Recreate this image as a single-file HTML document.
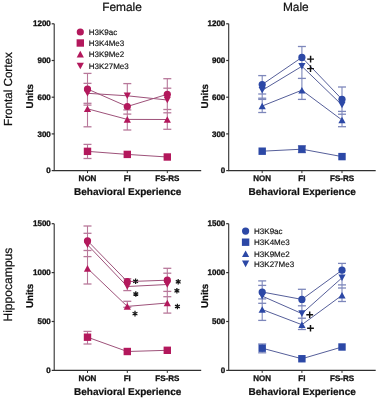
<!DOCTYPE html>
<html><head><meta charset="utf-8"><style>
html,body{margin:0;padding:0;background:#fff;width:378px;height:400px;overflow:hidden}
svg{display:block;will-change:transform}
text{font-family:"Liberation Sans", sans-serif;fill:#111;stroke:#111;stroke-width:0.22px;text-rendering:geometricPrecision}
</style></head><body>
<svg width="378" height="400" viewBox="0 0 378 400">
<rect width="378" height="400" fill="#fff"/>

<text x="122" y="11.1" text-anchor="middle" font-size="11.9">Female</text>
<text x="295.8" y="11.1" text-anchor="middle" font-size="11.9">Male</text>
<text transform="translate(12.2 89.1) rotate(-90)" text-anchor="middle" font-size="11.65">Frontal Cortex</text>
<text transform="translate(12.2 284.6) rotate(-90)" text-anchor="middle" font-size="12.1">Hippocampus</text>
<text transform="translate(32.9 96.2) rotate(-90)" text-anchor="middle" font-size="9.75" font-weight="bold">Units</text>
<text transform="translate(32.9 295.9) rotate(-90)" text-anchor="middle" font-size="9.75" font-weight="bold">Units</text>
<text transform="translate(207.6 96.2) rotate(-90)" text-anchor="middle" font-size="9.75" font-weight="bold">Units</text>
<text transform="translate(207.6 295.9) rotate(-90)" text-anchor="middle" font-size="9.75" font-weight="bold">Units</text>

<path d="M54.2 23.8 V170.6 H201.2" fill="none" stroke="#303030" stroke-width="1.1"/>
<path d="M51.7 23.8 H54.2" stroke="#303030" stroke-width="1.2"/>
<text x="50.800000000000004" y="26.400000000000002" text-anchor="end" font-size="8" font-weight="bold" style="stroke-width:0.32px">1200</text>
<path d="M51.7 60.5 H54.2" stroke="#303030" stroke-width="1.2"/>
<text x="50.800000000000004" y="63.1" text-anchor="end" font-size="8" font-weight="bold" style="stroke-width:0.32px">900</text>
<path d="M51.7 97.2 H54.2" stroke="#303030" stroke-width="1.2"/>
<text x="50.800000000000004" y="99.8" text-anchor="end" font-size="8" font-weight="bold" style="stroke-width:0.32px">600</text>
<path d="M51.7 133.9 H54.2" stroke="#303030" stroke-width="1.2"/>
<text x="50.800000000000004" y="136.5" text-anchor="end" font-size="8" font-weight="bold" style="stroke-width:0.32px">300</text>
<path d="M51.7 170.6 H54.2" stroke="#303030" stroke-width="1.2"/>
<text x="50.800000000000004" y="173.2" text-anchor="end" font-size="8" font-weight="bold" style="stroke-width:0.32px">0</text>
<path d="M87.5 170.6 V173.1" stroke="#303030" stroke-width="1"/>
<text x="87.5" y="180.79999999999998" text-anchor="middle" font-size="8" font-weight="bold" style="stroke-width:0.3px">NON</text>
<path d="M127.3 170.6 V173.1" stroke="#303030" stroke-width="1"/>
<text x="127.3" y="180.79999999999998" text-anchor="middle" font-size="8" font-weight="bold" style="stroke-width:0.3px">FI</text>
<path d="M167.3 170.6 V173.1" stroke="#303030" stroke-width="1"/>
<text x="167.3" y="180.79999999999998" text-anchor="middle" font-size="8" font-weight="bold" style="stroke-width:0.3px">FS-RS</text>
<text x="127.7" y="195.29999999999998" text-anchor="middle" font-size="10" font-weight="bold">Behavioral Experience</text>
<path d="M87.5 73.4 V126.8" stroke="#b8789a" stroke-width="1.1"/>
<path d="M83.5 73.4 H91.5" stroke="#b8789a" stroke-width="1.3"/>
<path d="M83.5 83.35 H91.5" stroke="#b8789a" stroke-width="1.3"/>
<path d="M83.5 103.3 H91.5" stroke="#b8789a" stroke-width="1.3"/>
<path d="M83.5 105.1 H91.5" stroke="#b8789a" stroke-width="1.3"/>
<path d="M83.5 126.8 H91.5" stroke="#b8789a" stroke-width="1.3"/>
<path d="M87.5 144.4 V158.5" stroke="#b8789a" stroke-width="1.1"/>
<path d="M83.5 144.4 H91.5" stroke="#b8789a" stroke-width="1.3"/>
<path d="M83.5 158.5 H91.5" stroke="#b8789a" stroke-width="1.3"/>
<path d="M127.3 83.6 V130.0" stroke="#b8789a" stroke-width="1.1"/>
<path d="M123.3 83.6 H131.3" stroke="#b8789a" stroke-width="1.3"/>
<path d="M123.3 109.9 H131.3" stroke="#b8789a" stroke-width="1.3"/>
<path d="M123.3 114.1 H131.3" stroke="#b8789a" stroke-width="1.3"/>
<path d="M123.3 130.0 H131.3" stroke="#b8789a" stroke-width="1.3"/>
<path d="M167.3 78.7 V129.3" stroke="#b8789a" stroke-width="1.1"/>
<path d="M163.3 78.7 H171.3" stroke="#b8789a" stroke-width="1.3"/>
<path d="M163.3 88.2 H171.3" stroke="#b8789a" stroke-width="1.3"/>
<path d="M163.3 109.5 H171.3" stroke="#b8789a" stroke-width="1.3"/>
<path d="M163.3 112.8 H171.3" stroke="#b8789a" stroke-width="1.3"/>
<path d="M163.3 129.3 H171.3" stroke="#b8789a" stroke-width="1.3"/>
<path d="M87.5 89.0 L127.3 106.5 L167.3 94.3" fill="none" stroke="#9e527a" stroke-width="1"/>
<path d="M87.5 93.3 L127.3 95.8 L167.3 100.0" fill="none" stroke="#9e527a" stroke-width="1"/>
<path d="M87.5 108.8 L127.3 119.4 L167.3 119.5" fill="none" stroke="#9e527a" stroke-width="1"/>
<path d="M87.5 151.35 L127.3 154.4 L167.3 157.0" fill="none" stroke="#9e527a" stroke-width="1"/>
<circle cx="87.50" cy="89.00" r="3.6" fill="#b3185c"/>
<circle cx="127.30" cy="106.50" r="3.6" fill="#b3185c"/>
<circle cx="167.30" cy="94.30" r="3.6" fill="#b3185c"/>
<path d="M87.50 96.60 L91.10 90.00 L83.90 90.00Z" fill="#b3185c"/>
<path d="M127.30 99.10 L130.90 92.50 L123.70 92.50Z" fill="#b3185c"/>
<path d="M167.30 103.30 L170.90 96.70 L163.70 96.70Z" fill="#b3185c"/>
<path d="M87.50 105.50 L91.10 112.10 L83.90 112.10Z" fill="#b3185c"/>
<path d="M127.30 116.10 L130.90 122.70 L123.70 122.70Z" fill="#b3185c"/>
<path d="M167.30 116.20 L170.90 122.80 L163.70 122.80Z" fill="#b3185c"/>
<rect x="83.80" y="147.65" width="7.40" height="7.40" fill="#b3185c"/>
<rect x="123.60" y="150.70" width="7.40" height="7.40" fill="#b3185c"/>
<rect x="163.60" y="153.30" width="7.40" height="7.40" fill="#b3185c"/>
<circle cx="80.30" cy="32.00" r="3.6" fill="#b3185c"/>
<text x="88.7" y="34.9" font-size="8" style="stroke-width:0.16px">H3K9ac</text>
<rect x="76.60" y="39.30" width="7.40" height="7.40" fill="#b3185c"/>
<text x="88.7" y="45.9" font-size="8" style="stroke-width:0.16px">H3K4Me3</text>
<path d="M80.30 50.80 L83.90 57.40 L76.70 57.40Z" fill="#b3185c"/>
<text x="88.7" y="57.0" font-size="8" style="stroke-width:0.16px">H3K9Me2</text>
<path d="M80.30 69.30 L83.90 62.70 L76.70 62.70Z" fill="#b3185c"/>
<text x="88.7" y="68.9" font-size="8" style="stroke-width:0.16px">H3K27Me3</text>
<path d="M228.7 23.8 V170.6 H375.7" fill="none" stroke="#303030" stroke-width="1.1"/>
<path d="M226.2 23.8 H228.7" stroke="#303030" stroke-width="1.2"/>
<text x="225.29999999999998" y="26.400000000000002" text-anchor="end" font-size="8" font-weight="bold" style="stroke-width:0.32px">1200</text>
<path d="M226.2 60.5 H228.7" stroke="#303030" stroke-width="1.2"/>
<text x="225.29999999999998" y="63.1" text-anchor="end" font-size="8" font-weight="bold" style="stroke-width:0.32px">900</text>
<path d="M226.2 97.2 H228.7" stroke="#303030" stroke-width="1.2"/>
<text x="225.29999999999998" y="99.8" text-anchor="end" font-size="8" font-weight="bold" style="stroke-width:0.32px">600</text>
<path d="M226.2 133.9 H228.7" stroke="#303030" stroke-width="1.2"/>
<text x="225.29999999999998" y="136.5" text-anchor="end" font-size="8" font-weight="bold" style="stroke-width:0.32px">300</text>
<path d="M226.2 170.6 H228.7" stroke="#303030" stroke-width="1.2"/>
<text x="225.29999999999998" y="173.2" text-anchor="end" font-size="8" font-weight="bold" style="stroke-width:0.32px">0</text>
<path d="M262.2 170.6 V173.1" stroke="#303030" stroke-width="1"/>
<text x="262.2" y="180.79999999999998" text-anchor="middle" font-size="8" font-weight="bold" style="stroke-width:0.3px">NON</text>
<path d="M301.9 170.6 V173.1" stroke="#303030" stroke-width="1"/>
<text x="301.9" y="180.79999999999998" text-anchor="middle" font-size="8" font-weight="bold" style="stroke-width:0.3px">FI</text>
<path d="M342.0 170.6 V173.1" stroke="#303030" stroke-width="1"/>
<text x="342.0" y="180.79999999999998" text-anchor="middle" font-size="8" font-weight="bold" style="stroke-width:0.3px">FS-RS</text>
<text x="302.2" y="195.29999999999998" text-anchor="middle" font-size="10" font-weight="bold">Behavioral Experience</text>
<path d="M262.2 75.6 V112.5" stroke="#7d87bb" stroke-width="1.1"/>
<path d="M258.2 75.6 H266.2" stroke="#7d87bb" stroke-width="1.3"/>
<path d="M258.2 94.0 H266.2" stroke="#7d87bb" stroke-width="1.3"/>
<path d="M258.2 98.2 H266.2" stroke="#7d87bb" stroke-width="1.3"/>
<path d="M258.2 99.4 H266.2" stroke="#7d87bb" stroke-width="1.3"/>
<path d="M258.2 112.5 H266.2" stroke="#7d87bb" stroke-width="1.3"/>
<path d="M301.9 145.8 V152.6" stroke="#7d87bb" stroke-width="1.1"/>
<path d="M297.9 145.8 H305.9" stroke="#7d87bb" stroke-width="1.3"/>
<path d="M297.9 152.6 H305.9" stroke="#7d87bb" stroke-width="1.3"/>
<path d="M301.9 46.5 V99.4" stroke="#7d87bb" stroke-width="1.1"/>
<path d="M297.9 46.5 H305.9" stroke="#7d87bb" stroke-width="1.3"/>
<path d="M297.9 78.4 H305.9" stroke="#7d87bb" stroke-width="1.3"/>
<path d="M297.9 99.4 H305.9" stroke="#7d87bb" stroke-width="1.3"/>
<path d="M342.0 87.0 V126.7" stroke="#7d87bb" stroke-width="1.1"/>
<path d="M338.0 87.0 H346.0" stroke="#7d87bb" stroke-width="1.3"/>
<path d="M338.0 111.4 H346.0" stroke="#7d87bb" stroke-width="1.3"/>
<path d="M338.0 114.2 H346.0" stroke="#7d87bb" stroke-width="1.3"/>
<path d="M338.0 126.7 H346.0" stroke="#7d87bb" stroke-width="1.3"/>
<path d="M262.2 84.5 L301.9 57.4 L342.0 99.3" fill="none" stroke="#565f9a" stroke-width="1"/>
<path d="M262.2 90.3 L301.9 66.3 L342.0 105.0" fill="none" stroke="#565f9a" stroke-width="1"/>
<path d="M262.2 106.0 L301.9 90.2 L342.0 120.0" fill="none" stroke="#565f9a" stroke-width="1"/>
<path d="M262.2 151.2 L301.9 149.2 L342.0 156.6" fill="none" stroke="#565f9a" stroke-width="1"/>
<circle cx="262.20" cy="84.50" r="3.6" fill="#2c48a6"/>
<circle cx="301.90" cy="57.40" r="3.6" fill="#2c48a6"/>
<circle cx="342.00" cy="99.30" r="3.6" fill="#2c48a6"/>
<path d="M262.20 93.60 L265.80 87.00 L258.60 87.00Z" fill="#2c48a6"/>
<path d="M301.90 69.60 L305.50 63.00 L298.30 63.00Z" fill="#2c48a6"/>
<path d="M342.00 108.30 L345.60 101.70 L338.40 101.70Z" fill="#2c48a6"/>
<path d="M262.20 102.70 L265.80 109.30 L258.60 109.30Z" fill="#2c48a6"/>
<path d="M301.90 86.90 L305.50 93.50 L298.30 93.50Z" fill="#2c48a6"/>
<path d="M342.00 116.70 L345.60 123.30 L338.40 123.30Z" fill="#2c48a6"/>
<rect x="258.50" y="147.50" width="7.40" height="7.40" fill="#2c48a6"/>
<rect x="298.20" y="145.50" width="7.40" height="7.40" fill="#2c48a6"/>
<rect x="338.30" y="152.90" width="7.40" height="7.40" fill="#2c48a6"/>
<path d="M307.20 59.1 H314.00 M310.6 55.80 V62.40" stroke="#111" stroke-width="1.45"/><path d="M307.10 68.6 H313.90 M310.5 65.30 V71.90" stroke="#111" stroke-width="1.45"/><path d="M54.2 223.7 V370.4 H201.2" fill="none" stroke="#303030" stroke-width="1.1"/>
<path d="M51.7 223.7 H54.2" stroke="#303030" stroke-width="1.2"/>
<text x="50.800000000000004" y="226.29999999999998" text-anchor="end" font-size="8" font-weight="bold" style="stroke-width:0.32px">1500</text>
<path d="M51.7 272.6 H54.2" stroke="#303030" stroke-width="1.2"/>
<text x="50.800000000000004" y="275.20000000000005" text-anchor="end" font-size="8" font-weight="bold" style="stroke-width:0.32px">1000</text>
<path d="M51.7 321.5 H54.2" stroke="#303030" stroke-width="1.2"/>
<text x="50.800000000000004" y="324.1" text-anchor="end" font-size="8" font-weight="bold" style="stroke-width:0.32px">500</text>
<path d="M51.7 370.4 H54.2" stroke="#303030" stroke-width="1.2"/>
<text x="50.800000000000004" y="373.0" text-anchor="end" font-size="8" font-weight="bold" style="stroke-width:0.32px">0</text>
<path d="M87.5 370.4 V372.9" stroke="#303030" stroke-width="1"/>
<text x="87.5" y="380.59999999999997" text-anchor="middle" font-size="8" font-weight="bold" style="stroke-width:0.3px">NON</text>
<path d="M127.3 370.4 V372.9" stroke="#303030" stroke-width="1"/>
<text x="127.3" y="380.59999999999997" text-anchor="middle" font-size="8" font-weight="bold" style="stroke-width:0.3px">FI</text>
<path d="M167.3 370.4 V372.9" stroke="#303030" stroke-width="1"/>
<text x="167.3" y="380.59999999999997" text-anchor="middle" font-size="8" font-weight="bold" style="stroke-width:0.3px">FS-RS</text>
<text x="127.7" y="395.09999999999997" text-anchor="middle" font-size="10" font-weight="bold">Behavioral Experience</text>
<path d="M87.5 226 V284" stroke="#b8789a" stroke-width="1.1"/>
<path d="M83.5 226 H91.5" stroke="#b8789a" stroke-width="1.3"/>
<path d="M83.5 233.3 H91.5" stroke="#b8789a" stroke-width="1.3"/>
<path d="M83.5 250.5 H91.5" stroke="#b8789a" stroke-width="1.3"/>
<path d="M83.5 256.6 H91.5" stroke="#b8789a" stroke-width="1.3"/>
<path d="M83.5 284 H91.5" stroke="#b8789a" stroke-width="1.3"/>
<path d="M87.5 331.4 V344" stroke="#b8789a" stroke-width="1.1"/>
<path d="M83.5 331.4 H91.5" stroke="#b8789a" stroke-width="1.3"/>
<path d="M83.5 344 H91.5" stroke="#b8789a" stroke-width="1.3"/>
<path d="M127.3 278.7 V290.6" stroke="#b8789a" stroke-width="1.1"/>
<path d="M123.3 278.7 H131.3" stroke="#b8789a" stroke-width="1.3"/>
<path d="M123.3 290.6 H131.3" stroke="#b8789a" stroke-width="1.3"/>
<path d="M127.3 301.3 V307.3" stroke="#b8789a" stroke-width="1.1"/>
<path d="M123.3 301.3 H131.3" stroke="#b8789a" stroke-width="1.3"/>
<path d="M123.3 307.3 H131.3" stroke="#b8789a" stroke-width="1.3"/>
<path d="M167.3 268.3 V313.1" stroke="#b8789a" stroke-width="1.1"/>
<path d="M163.3 268.3 H171.3" stroke="#b8789a" stroke-width="1.3"/>
<path d="M163.3 273.2 H171.3" stroke="#b8789a" stroke-width="1.3"/>
<path d="M163.3 291.4 H171.3" stroke="#b8789a" stroke-width="1.3"/>
<path d="M163.3 296.7 H171.3" stroke="#b8789a" stroke-width="1.3"/>
<path d="M163.3 313.1 H171.3" stroke="#b8789a" stroke-width="1.3"/>
<path d="M87.5 240.8 L127.3 281.6 L167.3 280.2" fill="none" stroke="#9e527a" stroke-width="1"/>
<path d="M87.5 244.8 L127.3 286.5 L167.3 284.5" fill="none" stroke="#9e527a" stroke-width="1"/>
<path d="M87.5 268.4 L127.3 306.4 L167.3 303.0" fill="none" stroke="#9e527a" stroke-width="1"/>
<path d="M87.5 337.2 L127.3 351.5 L167.3 350.3" fill="none" stroke="#9e527a" stroke-width="1"/>
<circle cx="87.50" cy="240.80" r="3.6" fill="#b3185c"/>
<circle cx="127.30" cy="281.60" r="3.6" fill="#b3185c"/>
<circle cx="167.30" cy="280.20" r="3.6" fill="#b3185c"/>
<path d="M87.50 248.10 L91.10 241.50 L83.90 241.50Z" fill="#b3185c"/>
<path d="M127.30 289.80 L130.90 283.20 L123.70 283.20Z" fill="#b3185c"/>
<path d="M167.30 287.80 L170.90 281.20 L163.70 281.20Z" fill="#b3185c"/>
<path d="M87.50 265.10 L91.10 271.70 L83.90 271.70Z" fill="#b3185c"/>
<path d="M127.30 303.10 L130.90 309.70 L123.70 309.70Z" fill="#b3185c"/>
<path d="M167.30 299.70 L170.90 306.30 L163.70 306.30Z" fill="#b3185c"/>
<rect x="83.80" y="333.50" width="7.40" height="7.40" fill="#b3185c"/>
<rect x="123.60" y="347.80" width="7.40" height="7.40" fill="#b3185c"/>
<rect x="163.60" y="346.60" width="7.40" height="7.40" fill="#b3185c"/>
<path d="M135.6 278.50 V284.10 M133.18 279.90 L138.02 282.70 M133.18 282.70 L138.02 279.90 " stroke="#161616" stroke-width="1.25"/><path d="M135.8 291.20 V296.80 M133.38 292.60 L138.22 295.40 M133.38 295.40 L138.22 292.60 " stroke="#161616" stroke-width="1.25"/><path d="M135.0 310.80 V316.40 M132.58 312.20 L137.42 315.00 M132.58 315.00 L137.42 312.20 " stroke="#161616" stroke-width="1.25"/><path d="M178.2 279.00 V284.60 M175.78 280.40 L180.62 283.20 M175.78 283.20 L180.62 280.40 " stroke="#161616" stroke-width="1.25"/><path d="M176.9 288.00 V293.60 M174.48 289.40 L179.32 292.20 M174.48 292.20 L179.32 289.40 " stroke="#161616" stroke-width="1.25"/><path d="M177.4 303.70 V309.30 M174.98 305.10 L179.82 307.90 M174.98 307.90 L179.82 305.10 " stroke="#161616" stroke-width="1.25"/><path d="M228.7 223.7 V370.4 H375.7" fill="none" stroke="#303030" stroke-width="1.1"/>
<path d="M226.2 223.7 H228.7" stroke="#303030" stroke-width="1.2"/>
<text x="225.29999999999998" y="226.29999999999998" text-anchor="end" font-size="8" font-weight="bold" style="stroke-width:0.32px">1500</text>
<path d="M226.2 272.6 H228.7" stroke="#303030" stroke-width="1.2"/>
<text x="225.29999999999998" y="275.20000000000005" text-anchor="end" font-size="8" font-weight="bold" style="stroke-width:0.32px">1000</text>
<path d="M226.2 321.5 H228.7" stroke="#303030" stroke-width="1.2"/>
<text x="225.29999999999998" y="324.1" text-anchor="end" font-size="8" font-weight="bold" style="stroke-width:0.32px">500</text>
<path d="M226.2 370.4 H228.7" stroke="#303030" stroke-width="1.2"/>
<text x="225.29999999999998" y="373.0" text-anchor="end" font-size="8" font-weight="bold" style="stroke-width:0.32px">0</text>
<path d="M262.2 370.4 V372.9" stroke="#303030" stroke-width="1"/>
<text x="262.2" y="380.59999999999997" text-anchor="middle" font-size="8" font-weight="bold" style="stroke-width:0.3px">NON</text>
<path d="M301.9 370.4 V372.9" stroke="#303030" stroke-width="1"/>
<text x="301.9" y="380.59999999999997" text-anchor="middle" font-size="8" font-weight="bold" style="stroke-width:0.3px">FI</text>
<path d="M342.0 370.4 V372.9" stroke="#303030" stroke-width="1"/>
<text x="342.0" y="380.59999999999997" text-anchor="middle" font-size="8" font-weight="bold" style="stroke-width:0.3px">FS-RS</text>
<text x="302.2" y="395.09999999999997" text-anchor="middle" font-size="10" font-weight="bold">Behavioral Experience</text>
<path d="M262.2 280.9 V320.4" stroke="#7d87bb" stroke-width="1.1"/>
<path d="M258.2 280.9 H266.2" stroke="#7d87bb" stroke-width="1.3"/>
<path d="M258.2 285.4 H266.2" stroke="#7d87bb" stroke-width="1.3"/>
<path d="M258.2 298.9 H266.2" stroke="#7d87bb" stroke-width="1.3"/>
<path d="M258.2 303.3 H266.2" stroke="#7d87bb" stroke-width="1.3"/>
<path d="M258.2 320.4 H266.2" stroke="#7d87bb" stroke-width="1.3"/>
<path d="M262.2 344 V352.8" stroke="#7d87bb" stroke-width="1.1"/>
<path d="M258.2 344 H266.2" stroke="#7d87bb" stroke-width="1.3"/>
<path d="M258.2 352.8 H266.2" stroke="#7d87bb" stroke-width="1.3"/>
<path d="M301.9 289.3 V329.5" stroke="#7d87bb" stroke-width="1.1"/>
<path d="M297.9 289.3 H305.9" stroke="#7d87bb" stroke-width="1.3"/>
<path d="M297.9 305.8 H305.9" stroke="#7d87bb" stroke-width="1.3"/>
<path d="M297.9 318.2 H305.9" stroke="#7d87bb" stroke-width="1.3"/>
<path d="M297.9 329.5 H305.9" stroke="#7d87bb" stroke-width="1.3"/>
<path d="M342.0 263.4 V301.5" stroke="#7d87bb" stroke-width="1.1"/>
<path d="M338.0 263.4 H346.0" stroke="#7d87bb" stroke-width="1.3"/>
<path d="M338.0 284.9 H346.0" stroke="#7d87bb" stroke-width="1.3"/>
<path d="M338.0 288.0 H346.0" stroke="#7d87bb" stroke-width="1.3"/>
<path d="M338.0 301.5 H346.0" stroke="#7d87bb" stroke-width="1.3"/>
<path d="M262.2 292.0 L301.9 299.4 L342.0 270.2" fill="none" stroke="#565f9a" stroke-width="1"/>
<path d="M262.2 296.1 L301.9 313.6 L342.0 277.8" fill="none" stroke="#565f9a" stroke-width="1"/>
<path d="M262.2 309.5 L301.9 324.7 L342.0 295.3" fill="none" stroke="#565f9a" stroke-width="1"/>
<path d="M262.2 348.2 L301.9 358.75 L342.0 347" fill="none" stroke="#565f9a" stroke-width="1"/>
<circle cx="262.20" cy="292.00" r="3.6" fill="#2c48a6"/>
<circle cx="301.90" cy="299.40" r="3.6" fill="#2c48a6"/>
<circle cx="342.00" cy="270.20" r="3.6" fill="#2c48a6"/>
<path d="M262.20 299.40 L265.80 292.80 L258.60 292.80Z" fill="#2c48a6"/>
<path d="M301.90 316.90 L305.50 310.30 L298.30 310.30Z" fill="#2c48a6"/>
<path d="M342.00 281.10 L345.60 274.50 L338.40 274.50Z" fill="#2c48a6"/>
<path d="M262.20 306.20 L265.80 312.80 L258.60 312.80Z" fill="#2c48a6"/>
<path d="M301.90 321.40 L305.50 328.00 L298.30 328.00Z" fill="#2c48a6"/>
<path d="M342.00 292.00 L345.60 298.60 L338.40 298.60Z" fill="#2c48a6"/>
<rect x="258.50" y="344.50" width="7.40" height="7.40" fill="#2c48a6"/>
<rect x="298.20" y="355.05" width="7.40" height="7.40" fill="#2c48a6"/>
<rect x="338.30" y="343.30" width="7.40" height="7.40" fill="#2c48a6"/>
<circle cx="245.60" cy="231.10" r="3.6" fill="#2c48a6"/>
<text x="254.1" y="234.0" font-size="8" style="stroke-width:0.16px">H3K9ac</text>
<rect x="241.90" y="238.50" width="7.40" height="7.40" fill="#2c48a6"/>
<text x="254.1" y="245.1" font-size="8" style="stroke-width:0.16px">H3K4Me3</text>
<path d="M245.60 250.40 L249.20 257.00 L242.00 257.00Z" fill="#2c48a6"/>
<text x="254.1" y="256.59999999999997" font-size="8" style="stroke-width:0.16px">H3K9Me2</text>
<path d="M245.60 267.20 L249.20 260.60 L242.00 260.60Z" fill="#2c48a6"/>
<text x="254.1" y="266.79999999999995" font-size="8" style="stroke-width:0.16px">H3K27Me3</text>
<path d="M306.30 314.8 H313.10 M309.7 311.50 V318.10" stroke="#111" stroke-width="1.45"/><path d="M307.10 328.3 H313.90 M310.5 325.00 V331.60" stroke="#111" stroke-width="1.45"/>
</svg>
</body></html>
